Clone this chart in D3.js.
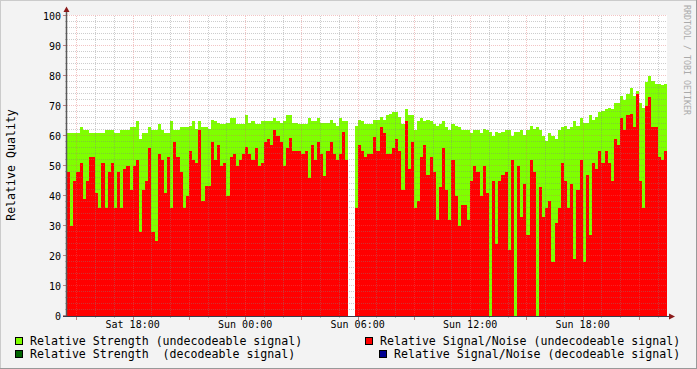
<!DOCTYPE html>
<html>
<head>
<meta charset="utf-8">
<script src="https://cdn.jsdelivr.net/npm/d3@7/dist/d3.min.js"></script>
<style>
body { margin: 0; background: #f3f3f3; }
svg { display: block; font-family: "DejaVu Sans Mono", monospace; }
</style>
</head>
<body>
<svg id="chart" width="697" height="369"></svg>
<script>
// 10 minute samples, Sat 14:30 -> Sun 22:30
const startTime = new Date(2024, 2, 2, 14, 30);
const endTime = new Date(2024, 2, 3, 22, 30);
const stepMinutes = 10;

const strength = [
    61, 61, 61, 61, 63, 62, 62, 61, 61, 61, 61, 61, 62, 62, 62, 61, 61, 62, 62, 62,
    63, 63, 65, 59, 61, 61, 63, 62, 62, 64, 62, 61, 61, 65, 62, 62, 63, 63, 63,
    63.5, 65, 62.5, 65, 63, 63, 62.5, 65.5, 65, 64.5, 64, 64, 64.5, 66, 66, 64, 64, 64, 67, 64.5,
    65, 64, 64, 65, 65, 65, 65, 66, 65, 64.5, 65, 67, 67, 64.5, 64.5, 64, 64, 64,
    66, 65, 65, 66, 64.5, 64.3, 64.3, 65.5, 64.5, 63.5, 66, 65, 65, null, null, 63.5, 65.5, 65, 64, 64,
    64, 65.5, 65.5, 66.3, 65.5, 67, 67.5, 68, 68, 66.3, 64, 69, 67, 67, 62, 65, 66, 65, 65.5,
    65, 64, 63.5, 64, 65, 63, 62, 64, 63.5, 63, 62, 62, 62, 61, 62, 62, 61, 62.5, 62, 61.5,
    60, 61.5, 61, 61.5, 62, 62, 60, 61.5, 61.5, 62, 60.5, 62, 63.5, 62.5, 63, 62, 60, 58.5,
    61, 60, 59, 62, 63, 63.5, 62.5, 63, 65, 63.5, 66, 64.5, 64.5, 67, 65.5, 66.5, 68, 68.5, 69, 69.5,
    69, 71, 71, 73.5, 72, 74, 76, 73.5, 75, 71, 69.5, 78, 80, 78.5, 77.5, 77.5, 77, 77.5
];

const signalNoise = [
    48, 30, 45, 48, 51, 39, 45, 53, 53, 41, 36, 51, 36, 48, 51, 36, 48, 36, 49, 50,
    42, 50, 52, 28, 42, 45, 56, 28, 25, 54, 52, 41, 53, 36, 58, 53, 48, 36, 40,
    55, 52, 51, 62, 38.5, 43.5, 43.5, 58, 52, 57, 50, 51, 40, 53, 54, 50, 52, 54, 56.5, 54,
    52, 56, 50, 51, 58, 59, 57, 62, 60, 58, 50, 56, 59.5, 55, 55, 55, 54, 55,
    46, 57, 52, 58, 54, 46.6, 55, 58, 54, 52, 54, 61.5, 52, null, null, 36, 57, 55, 53, 54,
    54, 59.6, 55, 63, 61, 54, 54, 56, 59, 55, 42, 65, 49, 58, 36, 38.5, 53, 57, 47,
    53, 48, 32, 43, 56, 42, 32, 52, 40, 30, 37, 37, 32, 45, 50, 48, 40, 50, 41, 0,
    45, 24, 45, 47, 48, 22, 52, 0, 50, 33, 44, 27, 52, 48, 0, 43, 33, 36,
    38.5, 18, 31, 36, 51, 45, 36, 44, 19, 42, 52, 18, 47, 27, 51, 49, 55, 51, 55, 51,
    45, 59, 57, 66, 62, 67, 67.5, 63, 74, 45, 36, 70, 73, 63, 63, 53, 52, 55
];

const yTicks = [0, 10, 20, 30, 40, 50, 60, 70, 80, 90, 100];
const yMinorTicks = d3.range(0, 101, 2);

const legendNames = [
    "Relative Strength (undecodeable signal)",
    "Relative Signal/Noise (undecodeable signal)",
    "Relative Strength  (decodeable signal)",
    "Relative Signal/Noise (decodeable signal)"
];
const legendColors = ["#7fff00", "#ff0000", "#006400", "#000090"];

const svg = d3.select("#chart");
const W = +svg.attr("width"), H = +svg.attr("height");

const x = d3.scaleTime().domain([startTime, endTime]).range([67, 667]);
const y = d3.scaleLinear().domain([0, 100]).range([316, 16]);
const line = v => Math.round(y(v)) - 0.5;
const vline = t => Math.round(x(t)) + 0.5;

// background + frame
svg.append("rect").attr("width", W).attr("height", H).attr("fill", "#f3f3f3");
svg.append("path").attr("d", `M0,${H} V0 H${W}`).attr("fill", "none")
    .attr("stroke", "#cbcbcb").attr("stroke-width", 2);
svg.append("path").attr("d", `M${W},0 V${H} H0`).attr("fill", "none")
    .attr("stroke", "#999999").attr("stroke-width", 2);

// canvas
svg.append("rect").attr("x", 67).attr("y", 15).attr("width", 600).attr("height", 301)
    .attr("fill", "#ffffff");

const rows = strength.map((s, i) => ({
    t0: d3.timeMinute.offset(startTime, i * stepMinutes),
    t1: d3.timeMinute.offset(startTime, (i + 1) * stepMinutes),
    s: s,
    n: signalNoise[i]
}));

const bars = svg.append("g").attr("shape-rendering", "crispEdges");

bars.selectAll(".strength")
    .data(rows.filter(d => d.s != null))
    .enter()
    .append("rect")
    .attr("class", "strength")
    .attr("x", d => x(d.t0))
    .attr("width", d => x(d.t1) - x(d.t0))
    .attr("y", d => y(d.s))
    .attr("height", d => y(0) - y(d.s))
    .attr("fill", legendColors[0]);

bars.selectAll(".noise")
    .data(rows.filter(d => d.n != null))
    .enter()
    .append("rect")
    .attr("class", "noise")
    .attr("x", d => x(d.t0))
    .attr("width", d => x(d.t1) - x(d.t0))
    .attr("y", d => y(d.n))
    .attr("height", d => y(0) - y(d.n))
    .attr("fill", legendColors[1]);

// grid (drawn over the data, like rrdtool)
const hours = d3.timeHour.range(startTime, endTime);
const majorHours = hours.filter(h => h.getHours() % 3 === 0);
const minorHours = hours.filter(h => h.getHours() % 3 !== 0);
const grid = svg.append("g").attr("stroke-dasharray", "1,1").attr("fill", "none")
    .attr("shape-rendering", "crispEdges");
const minorColor = "rgba(130,130,130,0.4)";
const majorColor = "rgba(220,100,100,0.38)";

grid.selectAll(".hmin")
    .data(yMinorTicks.filter(v => v % 10 !== 0))
    .enter().append("line")
    .attr("x1", 67).attr("x2", 667)
    .attr("y1", line).attr("y2", line)
    .attr("stroke", minorColor);

grid.selectAll(".vmin")
    .data(minorHours)
    .enter().append("line")
    .attr("x1", vline).attr("x2", vline)
    .attr("y1", y(100)).attr("y2", y(0))
    .attr("stroke", minorColor);

grid.selectAll(".hmaj")
    .data(yTicks.filter(v => v > 0))
    .enter().append("line")
    .attr("x1", 67).attr("x2", 667)
    .attr("y1", line).attr("y2", line)
    .attr("stroke", majorColor);

grid.selectAll(".vmaj")
    .data(majorHours)
    .enter().append("line")
    .attr("x1", vline).attr("x2", vline)
    .attr("y1", y(100)).attr("y2", y(0))
    .attr("stroke", majorColor);

// axis ticks
const ticks = svg.append("g").attr("shape-rendering", "crispEdges");
ticks.selectAll(".yt")
    .data(yMinorTicks)
    .enter().append("line")
    .attr("x1", d => d % 10 === 0 ? 63 : 64.5).attr("x2", 67)
    .attr("y1", line).attr("y2", line)
    .attr("stroke", d => d % 10 === 0 ? "#c08080" : "#bbbbbb");
ticks.selectAll(".xt")
    .data(hours)
    .enter().append("line")
    .attr("x1", vline).attr("x2", vline)
    .attr("y1", 316).attr("y2", d => d.getHours() % 3 === 0 ? 320 : 318)
    .attr("stroke", d => d.getHours() % 3 === 0 ? "#c08080" : "#bbbbbb");

// axes
svg.append("line").attr("x1", 66.5).attr("x2", 66.5).attr("y1", 316).attr("y2", 10)
    .attr("stroke", "#5a5a5a").attr("stroke-width", 1.5);
svg.append("line").attr("x1", 63).attr("x2", 670).attr("y1", 316.5).attr("y2", 316.5)
    .attr("stroke", "#3a3a4a").attr("stroke-width", 1.2);
svg.append("path").attr("d", "M63.5,12 L66.5,6.5 L69.5,12 Z").attr("fill", "#8b1a1a");
svg.append("path").attr("d", "M669,313.5 L675,316.5 L669,319.5 Z").attr("fill", "#8b1a1a");

// labels
svg.append("g").selectAll("text")
    .data(yTicks)
    .enter().append("text")
    .attr("x", 61).attr("y", d => y(d) + 3.5)
    .attr("text-anchor", "end")
    .attr("font-size", "10px")
    .attr("fill", "#000")
    .text(d => d);

svg.append("g").selectAll("text")
    .data(hours.filter(h => h.getHours() % 6 === 0))
    .enter().append("text")
    .attr("x", d => x(d)).attr("y", 327.5)
    .attr("text-anchor", "middle")
    .attr("font-size", "10px")
    .attr("fill", "#000")
    .text(d3.timeFormat("%a %H:%M"));

svg.append("text")
    .attr("transform", "translate(15,165) rotate(-90)")
    .attr("text-anchor", "middle")
    .attr("font-size", "11.6px")
    .attr("fill", "#000")
    .text("Relative Quality");

svg.append("text")
    .attr("transform", "translate(684,5) rotate(90)")
    .attr("font-size", "8.3px")
    .attr("fill", "#aaaaaa")
    .text("RRDTOOL / TOBI OETIKER");

// legend
const legendX = [15, 365, 15, 379];
const legendY = [337, 337, 350, 350];
const legend = svg.append("g").selectAll("g")
    .data(legendNames)
    .enter().append("g")
    .attr("transform", (d, i) => `translate(${legendX[i]},${legendY[i]})`);
legend.append("rect")
    .attr("x", 0.5).attr("y", 0.5).attr("width", 7).attr("height", 7)
    .attr("fill", (d, i) => legendColors[i])
    .attr("stroke", "#000").attr("stroke-width", 1);
legend.append("text")
    .attr("x", 15).attr("y", 7.5)
    .attr("font-size", "11.6px")
    .attr("fill", "#000")
    .attr("xml:space", "preserve")
    .style("white-space", "pre")
    .text(d => d);
</script>
</body>
</html>
